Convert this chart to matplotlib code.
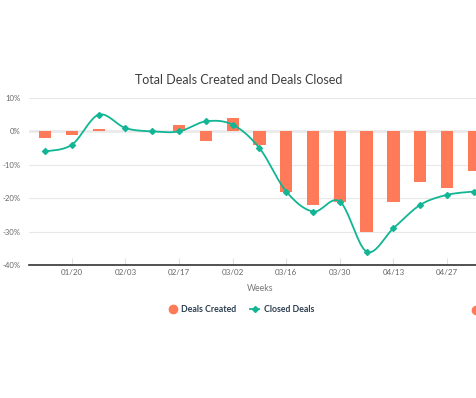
import numpy as np
import matplotlib
matplotlib.use("Agg")
import matplotlib.pyplot as plt
from matplotlib.lines import Line2D

plt.rcParams["font.family"] = ["Lato", "DejaVu Sans"]

weeks = ["01/13", "01/20", "01/27", "02/03", "02/10", "02/17", "02/24", "03/02", "03/09",
         "03/16", "03/23", "03/30", "04/06", "04/13", "04/20", "04/27", "05/04"]
deals_created = [-2, -1, 0.7, 0, 0, 2, -3, 4, -4, -18, -22, -21, -30, -21, -15, -17, -12]
closed_deals = [-6, -4, 5, 1, 0, 0, 3, 2, -5, -18, -24, -21, -36, -29, -22, -19, -18]
tick_labels = ["01/20", "02/03", "02/17", "03/02", "03/16", "03/30", "04/13", "04/27"]
y_ticks = [10, 0, -10, -20, -30, -40]

ORANGE = "#ff7a59"
TEAL = "#12b594"


def smooth_curve(x, y, n=20):
    # catmull-rom through the points, just for drawing
    x = np.asarray(x, float)
    y = np.asarray(y, float)
    px = np.concatenate([[x[0]], x, [x[-1]]])
    py = np.concatenate([[y[0]], y, [y[-1]]])
    xs, ys = [], []
    t = np.linspace(0, 1, n, endpoint=False)
    for i in range(1, len(px) - 2):
        p0, p1, p2, p3 = py[i - 1], py[i], py[i + 1], py[i + 2]
        q0, q1, q2, q3 = px[i - 1], px[i], px[i + 1], px[i + 2]
        for (a0, a1, a2, a3, out) in ((q0, q1, q2, q3, xs), (p0, p1, p2, p3, ys)):
            out.extend(0.5 * (2 * a1 + (-a0 + a2) * t + (2 * a0 - 5 * a1 + 4 * a2 - a3) * t ** 2
                              + (-a0 + 3 * a1 - 3 * a2 + a3) * t ** 3))
    xs.append(x[-1])
    ys.append(y[-1])
    return np.array(xs), np.array(ys)


fig = plt.figure(figsize=(4.77, 3.98), dpi=100)
ax = fig.add_axes([29 / 477, 1 - 265 / 398, 462 / 477, 167 / 398])

xi = np.arange(len(weeks))
ax.bar(xi, deals_created, width=0.46, color=ORANGE, zorder=2)
sx, sy = smooth_curve(xi, closed_deals)
ax.plot(sx, sy, color=TEAL, lw=1.3, zorder=3)
ax.plot(xi, closed_deals, ls="none", marker="D", ms=3, color=TEAL, zorder=4)

ax.set_xlim(-0.6, 16.64)
ax.set_ylim(-40, 10)
ax.set_yticks(y_ticks)
ax.set_yticklabels([f"{v}%" for v in y_ticks])
ax.set_xticks([weeks.index(w) for w in tick_labels])
ax.set_xticklabels(tick_labels)

ax.grid(axis="y", color="#e8e8e8", lw=0.8, zorder=0)
ax.axhline(0, color="#aaaaaa", lw=1, zorder=1)
for s in ["top", "right", "left"]:
    ax.spines[s].set_visible(False)
ax.spines["bottom"].set_color("#333333")
ax.spines["bottom"].set_linewidth(1.2)
ax.tick_params(axis="y", length=0, labelsize=5.6, labelcolor="#666666", pad=6)
ax.tick_params(axis="x", direction="in", length=5, color="#e0e0e0", labelsize=5.8,
               labelcolor="#666666", pad=3)
ax.set_xlabel("Weeks", fontsize=6.3, color="#777777")
ax.xaxis.set_label_coords((260 - 29) / 462, -0.115)

fig.text(239 / 477, 1 - 80 / 398, "Total Deals Created and Deals Closed", ha="center", va="center",
         fontsize=9, color="#3d3d3d")

handles = [
    Line2D([], [], ls="none", marker="o", ms=6, color=ORANGE),
    Line2D([], [], color=TEAL, lw=1.3, marker="D", ms=3),
]
leg = fig.legend(handles, ["Deals Created", "Closed Deals"], loc="center",
                 bbox_to_anchor=(241 / 477, 1 - 310 / 398), ncol=2, frameon=False,
                 handlelength=1.0, columnspacing=1.6, handletextpad=0.5,
                 prop={"weight": "bold", "size": 6.3})
for txt in leg.get_texts():
    txt.set_color("#2d3e50")
fig.add_artist(Line2D([476 / 477], [1 - 310 / 398], marker="o", ms=6, color=ORANGE, ls="none",
                      transform=fig.transFigure))

fig.savefig("out.png", dpi=100)
